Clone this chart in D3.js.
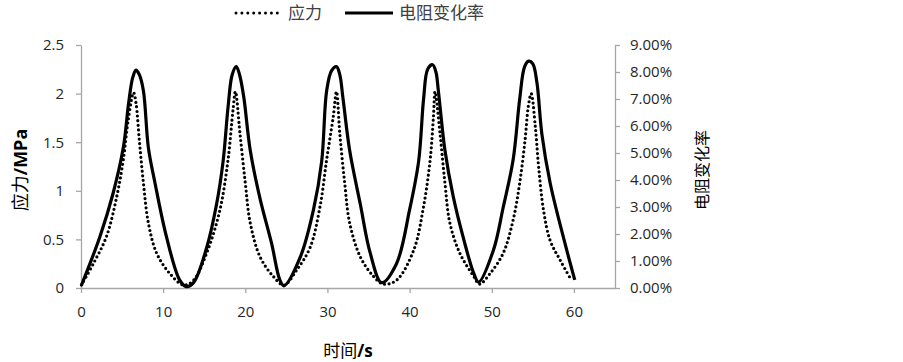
<!DOCTYPE html>
<html>
<head>
<meta charset="utf-8">
<script src="https://cdn.jsdelivr.net/npm/d3@7"></script>
<style>
  html, body { margin: 0; padding: 0; background: #fff; }
  svg { display: block; }
  text { font-family: "Open Sans", "Noto Sans CJK SC", sans-serif; }
</style>
</head>
<body>
<svg id="chart" width="903" height="362"></svg>
<script>
// ---- data ----
const stressTime = [0.05,1.5,3.1,4.35,5.15,5.75,6.4,6.7,7.1,7.6,8.2,9.2,10.8,12.5,
  13.7,15.3,16.9,17.9,18.5,18.8,19.35,20.0,20.6,21.8,23.4,24.7,
  26.3,27.9,29.1,29.9,30.7,31.1,31.5,32.1,32.7,34.0,35.6,36.8,
  38.4,40.5,41.7,42.5,42.9,43.1,43.7,44.3,44.9,46.1,47.8,48.5,
  49.8,51.4,52.6,53.4,54.05,54.45,54.8,55.3,55.7,56.3,57.1,58.3,59.7];
const stressValues = [0.03,0.25,0.53,0.94,1.32,1.73,2.01,1.9,1.52,1.08,0.67,0.36,0.15,0.03,
  0.08,0.36,0.8,1.32,1.83,2.02,1.59,1.08,0.67,0.32,0.12,0.03,
  0.19,0.42,0.84,1.32,1.76,2.02,1.59,1.08,0.67,0.32,0.12,0.04,
  0.08,0.39,0.84,1.32,1.76,2.02,1.59,1.08,0.67,0.36,0.12,0.04,
  0.15,0.36,0.7,1.08,1.52,1.87,2.0,1.66,1.25,0.8,0.49,0.29,0.08];

const resTime = [0.05,2.3,3.9,5.15,5.8,6.3,6.7,7.1,7.6,8.2,9.0,10.4,12.0,12.8,
  13.7,15.3,16.5,17.3,17.9,18.4,18.9,19.3,19.8,20.6,21.8,23.2,24.2,24.7,
  26.7,28.3,29.3,29.9,30.5,31.1,31.5,31.9,32.7,34.0,35.2,36.6,
  38.4,40.0,41.1,41.7,42.2,42.8,43.2,43.5,44.3,45.3,46.5,47.8,48.4,
  50.2,51.4,52.6,53.4,54.0,54.5,55.0,55.5,56.1,57.1,58.7,60.1];
const resValues = [0.1,1.9,3.5,5.2,6.85,7.8,8.07,7.9,7.3,5.2,3.9,1.9,0.3,0.05,
  0.2,1.5,3.1,4.7,6.7,7.9,8.2,7.9,7.1,5.1,3.3,1.65,0.3,0.08,
  1.15,2.9,4.7,7.3,8.05,8.2,7.9,7.0,5.1,3.1,1.3,0.2,
  0.9,2.9,4.7,7.0,8.1,8.27,8.0,7.3,5.1,3.4,1.9,0.55,0.22,
  1.4,3.0,4.75,7.0,8.2,8.4,8.3,7.6,5.7,3.9,1.9,0.3]; // percent

const xTicks = [0,10,20,30,40,50,60];
const yLeftTicks = [0,0.5,1,1.5,2,2.5];
const yRightTicks = [0,1,2,3,4,5,6,7,8,9];
const seriesNames = ["应力", "电阻变化率"];

// ---- layout ----
const L = 81, R = 615, T = 45, B = 288;
const svg = d3.select("#chart");
const x = d3.scaleLinear().domain([0, 65]).range([L, R]);
const yL = d3.scaleLinear().domain([0, 2.5]).range([B, T]);
const yR = d3.scaleLinear().domain([0, 9]).range([B, T]);
const axisColor = "#a6a6a6";
const labelColor = "#262626";

function styleAxis(g) {
  g.selectAll("path.domain").attr("stroke", axisColor).attr("stroke-width", 1.3);
  g.selectAll(".tick line").attr("stroke", axisColor).attr("stroke-width", 1.3);
  g.selectAll(".tick text").attr("fill", labelColor)
    .style("font-family", "'Open Sans', sans-serif").style("font-size", "15px");
}

svg.append("g").attr("transform", `translate(0,${B})`)
  .call(d3.axisBottom(x).tickValues(xTicks).tickSizeInner(5).tickSizeOuter(0).tickPadding(13).tickFormat(d3.format("d")))
  .call(styleAxis);

svg.append("g").attr("transform", `translate(${L},0)`)
  .call(d3.axisLeft(yL).tickValues(yLeftTicks).tickSizeInner(5).tickSizeOuter(0).tickPadding(12).tickFormat(d => String(d)))
  .call(styleAxis);

svg.append("g").attr("transform", `translate(${R},0)`)
  .call(d3.axisRight(yR).tickValues(yRightTicks).tickSizeInner(5).tickSizeOuter(0).tickPadding(10).tickFormat(d => d.toFixed(2) + "%"))
  .call(styleAxis);

// ---- lines ----
const stressData = stressTime.map((t, i) => [t, stressValues[i]]);
const resData = resTime.map((t, i) => [t, resValues[i]]);

const lineL = d3.line().x(d => x(d[0])).y(d => yL(d[1])).curve(d3.curveCatmullRom.alpha(0.5));
const lineR = d3.line().x(d => x(d[0])).y(d => yR(d[1])).curve(d3.curveCatmullRom.alpha(0.5));

svg.append("path").datum(resData).attr("d", lineR)
  .attr("fill", "none").attr("stroke", "#000").attr("stroke-width", 3.2)
  .attr("stroke-linejoin", "round");

svg.append("path").datum(stressData).attr("d", lineL)
  .attr("fill", "none").attr("stroke", "#000").attr("stroke-width", 3.2)
  .attr("stroke-linecap", "round").attr("stroke-dasharray", "0,4.6");

// ---- axis titles ----
const xt = svg.append("text").attr("x", (L + R) / 2).attr("y", 357)
  .attr("text-anchor", "middle").attr("fill", "#000").style("font-size", "17px");
xt.append("tspan").style("font-family", "'Noto Sans CJK SC'").text("时间");
xt.append("tspan").style("font-weight", "bold").text("/s");

const ylt = svg.append("text").attr("transform", "translate(27,170) rotate(-90)")
  .attr("text-anchor", "middle").attr("fill", "#000").style("font-size", "18px");
ylt.append("tspan").style("font-family", "'Noto Sans CJK SC'").text("应力");
ylt.append("tspan").style("font-weight", "bold").text("/MPa");

svg.append("text").attr("transform", "translate(708,170) rotate(-90)")
  .attr("text-anchor", "middle").attr("fill", "#000")
  .style("font-family", "'Noto Sans CJK SC'").style("font-size", "16px")
  .text("电阻变化率");

// ---- legend ----
const leg = svg.append("g");
leg.append("line").attr("x1", 236).attr("x2", 280).attr("y1", 13).attr("y2", 13)
  .attr("stroke", "#000").attr("stroke-width", 3).attr("stroke-linecap", "round")
  .attr("stroke-dasharray", "0,5.9");
leg.append("text").attr("x", 288).attr("y", 19).attr("fill", "#404040")
  .style("font-family", "'Noto Sans CJK SC'").style("font-size", "17px").text(seriesNames[0]);
leg.append("line").attr("x1", 345).attr("x2", 393).attr("y1", 13).attr("y2", 13)
  .attr("stroke", "#000").attr("stroke-width", 3.2);
leg.append("text").attr("x", 399).attr("y", 19).attr("fill", "#404040")
  .style("font-family", "'Noto Sans CJK SC'").style("font-size", "17px").text(seriesNames[1]);
</script>
</body>
</html>
